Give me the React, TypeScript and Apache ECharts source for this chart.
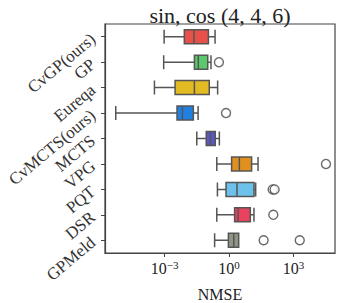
import React, { useEffect, useRef } from "react";
import * as echarts from "echarts";

const categories = ["CvGP(ours)", "GP", "Eureqa", "CvMCTS(ours)", "MCTS", "VPG", "PQT", "DSR", "GPMeld"];
// log10(NMSE): [min, Q1, median, Q3, max]
const boxValues: number[][] = [
  [-3.02, -2.08, -1.63, -0.96, -0.65],
  [-3.04, -1.61, -1.43, -0.99, -0.84],
  [-3.47, -2.51, -1.61, -0.92, -0.53],
  [-5.27, -2.42, -2.17, -1.66, -1.44],
  [-1.5, -1.06, -0.87, -0.64, -0.45],
  [-0.57, 0.12, 0.48, 1.05, 1.35],
  [-0.54, -0.14, 0.37, 1.16, 1.24],
  [-0.57, 0.26, 0.42, 0.99, 1.16],
  [-0.67, -0.03, 0.22, 0.45, 0.45],
];
const boxColors = ["#E8504A", "#5CC86C", "#E2BA22", "#1F80E2", "#5C56C6", "#E0901E", "#6CC2EA", "#E8425E", "#8F9585"];
// outliers: [log10(NMSE), category index]
const outliers: number[][] = [
  [-0.47, 1],
  [-0.14, 3],
  [4.51, 5],
  [2.03, 6],
  [2.12, 6],
  [2.06, 7],
  [1.61, 8],
  [3.29, 8],
];
const tickValues = [-3, 0, 3];

export default function App() {
  const ref = useRef<HTMLDivElement>(null);
  useEffect(() => {
    if (!ref.current) return;
    const chart = echarts.init(ref.current, undefined, { renderer: "svg" });
    const font = "Liberation Serif";
    chart.setOption({
      animation: false,
      title: {
        text: "sin, cos (4, 4, 6)",
        left: 215,
        textAlign: "center",
        top: -1,
        textStyle: { fontFamily: font, fontSize: 22, fontWeight: "normal", color: "#222" },
      },
      grid: {
        left: 105,
        right: 2,
        top: 24,
        bottom: 50,
        outerBoundsMode: "none",
        containLabel: false,
        show: true,
        borderColor: "#444",
        borderWidth: 1.2,
      },
      xAxis: {
        type: "value",
        min: -5.77,
        max: 4.93,
        name: "NMSE",
        nameLocation: "middle",
        nameGap: 33,
        nameTextStyle: { fontFamily: font, fontSize: 16, color: "#222" },
        axisLine: { show: true, onZero: false, lineStyle: { color: "#444", width: 1.2 } },
        axisTick: { show: true, length: 4, customValues: tickValues, lineStyle: { color: "#444" } },
        splitLine: { show: false },
        axisLabel: {
          customValues: tickValues,
          margin: 6,
          fontFamily: font,
          color: "#222",
          formatter: (v: number) => "{b|10}{s|" + String(v).replace("-", "−") + "}",
          rich: {
            b: { fontFamily: font, fontSize: 16, color: "#222" },
            s: { fontFamily: font, fontSize: 11, color: "#222", padding: [0, 0, 8, 0] },
          },
        },
      },
      yAxis: {
        type: "category",
        data: categories,
        inverse: true,
        axisLine: { show: true, onZero: false, lineStyle: { color: "#444", width: 1.2 } },
        axisTick: { show: true, length: 4, alignWithLabel: true, lineStyle: { color: "#444" } },
        axisLabel: {
          interval: 0,
          hideOverlap: false,
          rotate: 40,
          margin: 12,
          fontFamily: font,
          fontSize: 17,
          color: "#333",
        },
      },
      series: [
        {
          type: "boxplot",
          boxWidth: [14, 14],
          data: boxValues.map((v, i) => ({
            value: v,
            itemStyle: { color: boxColors[i], borderColor: "#555", borderWidth: 1.5 },
          })),
        },
        {
          type: "scatter",
          symbol: "circle",
          symbolSize: 9,
          data: outliers,
          itemStyle: { color: "#fff", borderColor: "#444", borderWidth: 1.4 },
        },
      ],
    });
    return () => chart.dispose();
  }, []);
  return (
    <div
      ref={ref}
      style={{ position: "absolute", left: 0, top: 0, width: 337, height: 303 }}
    />
  );
}
